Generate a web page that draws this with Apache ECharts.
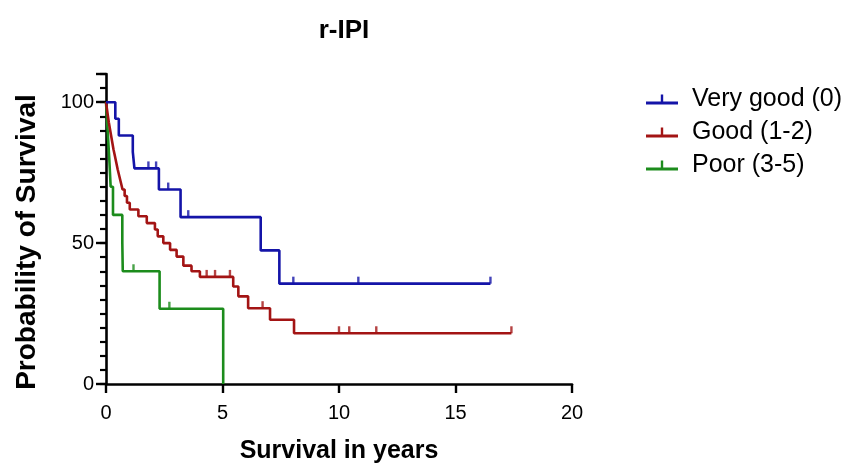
<!DOCTYPE html>
<html>
<head>
<meta charset="utf-8">
<script src="https://cdn.jsdelivr.net/npm/echarts@6/dist/echarts.min.js"></script>
<style>html,body{margin:0;padding:0;background:#fff;}#c{width:851px;height:464px;}</style>
</head>
<body>
<div id="c"></div>
<script>
// ---- data ----
const seriesNames = ['Very good (0)', 'Good (1-2)', 'Poor (3-5)'];

const veryGoodTimes = [0, 0.4, 0.55, 1.15, 1.22, 2.27, 3.2, 6.64, 7.44];
const veryGoodSurv  = [100, 94.1, 88.2, 82.4, 76.5, 69.0, 59.2, 47.4, 35.6];
const veryGoodCensor = [1.82, 2.15, 2.67, 3.53, 8.04, 10.83, 16.5];
const veryGoodEnd = 16.5;

const goodTimes = [0, 0.04, 0.08, 0.12, 0.17, 0.22, 0.27, 0.32, 0.38, 0.44, 0.5, 0.57, 0.64, 0.71, 0.8, 0.9, 1.02,
                   1.39, 1.75, 2.1, 2.22, 2.46, 2.75, 3.03, 3.32, 3.67, 4.03, 5.46, 5.68, 6.1, 7.04, 8.07];
const goodSurv  = [100, 97.6, 95.2, 92.9, 90.5, 88.1, 85.7, 83.3, 81.0, 78.6, 76.2, 73.8, 71.4, 69.0, 66.7, 64.3, 61.9,
                   59.5, 57.1, 54.8, 52.4, 50.0, 47.6, 45.2, 42.0, 40.0, 38.0, 34.6, 31.1, 26.9, 22.8, 18.0];
const goodCensor = [4.32, 4.68, 5.32, 6.72, 10.0, 10.44, 11.6, 17.4];
const goodEnd = 17.4;

const poorTimes = [0, 0.07, 0.14, 0.2, 0.3, 0.7, 0.72, 2.3, 5.03];
const poorSurv  = [100, 90, 80, 70, 60, 50, 40, 26.7, 0];
const poorCensor = [1.18, 2.72];
const poorEnd = 5.03;

const xTicks = [0, 5, 10, 15, 20];
const yTicks = [0, 50, 100];

const colors = ['#1414a8', '#a31414', '#1c8c1c'];

// ---- build ----
function kmLine(times, surv, end) {
  const d = times.map((t, i) => [t, surv[i]]);
  const last = times[times.length - 1];
  if (end > last) d.push([end, surv[surv.length - 1]]);
  return d;
}
function survAt(times, surv, t) {
  let s = surv[0];
  for (let i = 0; i < times.length; i++) if (times[i] <= t) s = surv[i];
  return s;
}
function censorPts(times, surv, cens) {
  return cens.map(t => [t, survAt(times, surv, t)]);
}

const groups = [
  [veryGoodTimes, veryGoodSurv, veryGoodCensor, veryGoodEnd],
  [goodTimes, goodSurv, goodCensor, goodEnd],
  [poorTimes, poorSurv, poorCensor, poorEnd]
];

const series = [];
groups.forEach((g, i) => {
  series.push({
    name: seriesNames[i], type: 'line', step: 'end', showSymbol: false,
    data: kmLine(g[0], g[1], g[3]),
    lineStyle: { color: colors[i], width: 2.6 }, itemStyle: { color: colors[i] },
    z: 3 - i + 2
  });
  series.push({
    name: seriesNames[i], type: 'scatter', symbol: 'rect', symbolSize: [2.4, 7], symbolOffset: [0, -3.5],
    data: censorPts(g[0], g[1], g[2]),
    itemStyle: { color: colors[i] }, z: 3 - i + 2
  });
});

const font = 'Liberation Sans, Arial, sans-serif';
const chart = echarts.init(document.getElementById('c'), null, { renderer: 'canvas' });
chart.setOption({
  animation: false,
  backgroundColor: '#fff',
  title: {
    text: 'r-IPI', left: 339, top: 13, textAlign: 'center',
    textStyle: { fontFamily: font, fontWeight: 'bold', fontSize: 26, color: '#000' }
  },
  legend: {
    data: seriesNames.map((n, i) => ({ name: n, icon: 'path://M0,7 L32,7 L32,10 L0,10 Z M14.8,0 L17.2,0 L17.2,8 L14.8,8 Z' })),
    orient: 'vertical', left: 641, top: 82, itemWidth: 32, itemHeight: 10, itemGap: 8,
    textStyle: { fontFamily: font, fontSize: 25, color: '#000', padding: [0, 0, 0, 9] }
  },
  grid: { left: 106, right: 279, top: 74, bottom: 80, outerBoundsMode: 'none', containLabel: false },
  xAxis: {
    type: 'value', min: 0, max: 20, interval: 5,
    name: 'Survival in years', nameLocation: 'middle', nameGap: 55,
    nameTextStyle: { fontFamily: font, fontWeight: 'bold', fontSize: 25, color: '#000' },
    axisLine: { lineStyle: { color: '#000', width: 2.6 } },
    axisTick: { length: 9, lineStyle: { color: '#000', width: 2.4 } },
    axisLabel: { margin: 19, fontFamily: font, fontSize: 20, color: '#000',
      formatter: v => xTicks.includes(v) ? String(v) : '' },
    splitLine: { show: false }
  },
  yAxis: [{
    type: 'value', min: 0, max: 110, interval: 50,
    name: 'Probability of Survival', nameLocation: 'middle', nameGap: 65, nameRotate: 90,
    nameTextStyle: { fontFamily: font, fontWeight: 'bold', fontSize: 28, color: '#000', padding: [0, 26, 0, 0] },
    axisLine: { onZero: false, lineStyle: { color: '#000', width: 2.6 } },
    axisTick: { length: 10, lineStyle: { color: '#000', width: 2.4 } },
    axisLabel: { margin: 12, fontFamily: font, fontSize: 20, color: '#000',
      formatter: v => yTicks.includes(v) ? String(v) : '' },
    splitLine: { show: false }
  }, {
    type: 'value', min: 0, max: 110, interval: 5, position: 'left', offset: 0,
    axisLine: { show: false, onZero: false },
    axisTick: { length: 6, lineStyle: { color: '#000', width: 2.2 } },
    axisLabel: { show: false },
    splitLine: { show: false }
  }],
  series: series
});
</script>
</body>
</html>
